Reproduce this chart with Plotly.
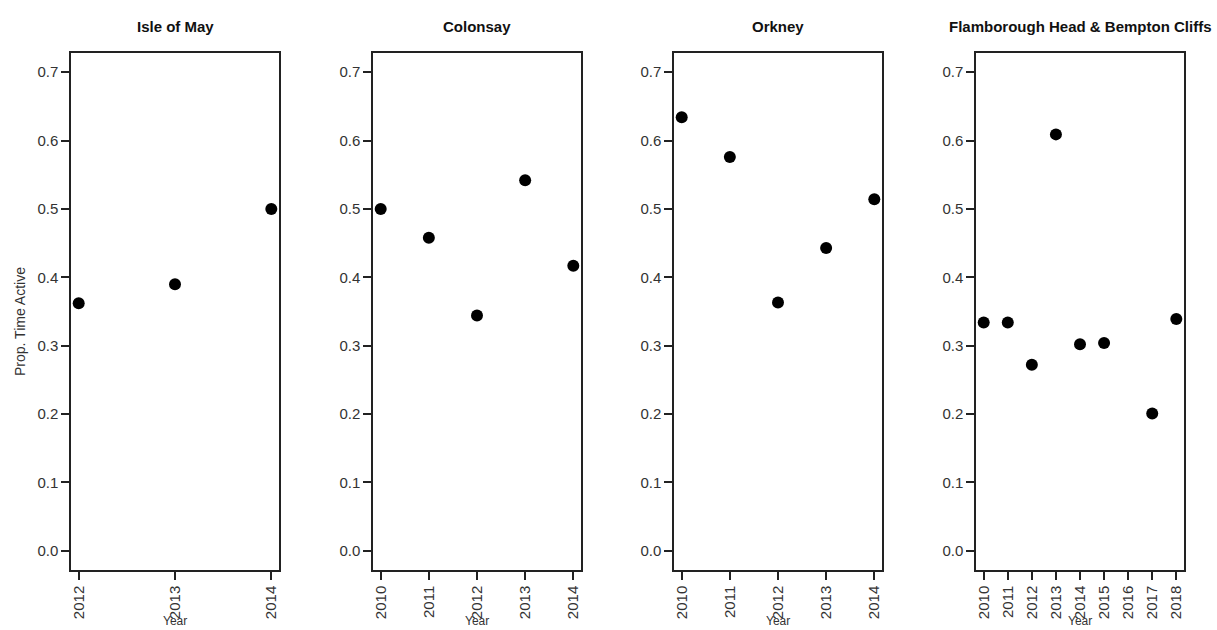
import plotly.graph_objects as go

W, H = 1217, 630

sites = ["Isle of May", "Colonsay", "Orkney", "Flamborough Head & Bempton Cliffs"]

isle_years = [2012, 2013, 2014]
isle_vals = [0.362, 0.390, 0.500]

colonsay_years = [2010, 2011, 2012, 2013, 2014]
colonsay_vals = [0.500, 0.458, 0.344, 0.542, 0.417]

orkney_years = [2010, 2011, 2012, 2013, 2014]
orkney_vals = [0.634, 0.576, 0.363, 0.443, 0.514]

flam_years = [2010, 2011, 2012, 2013, 2014, 2015, 2017, 2018]
flam_vals = [0.334, 0.334, 0.272, 0.609, 0.302, 0.304, 0.201, 0.339]

tick_years = [
    [2012, 2013, 2014],
    [2010, 2011, 2012, 2013, 2014],
    [2010, 2011, 2012, 2013, 2014],
    [2010, 2011, 2012, 2013, 2014, 2015, 2016, 2017, 2018],
]
y_ticks = [0.0, 0.1, 0.2, 0.3, 0.4, 0.5, 0.6, 0.7]

series = [
    (isle_years, isle_vals),
    (colonsay_years, colonsay_vals),
    (orkney_years, orkney_vals),
    (flam_years, flam_vals),
]

# panel pixel boxes (left, right)
panels_px = [(71, 279), (373, 581), (674, 882), (976, 1184)]
top_px, bot_px = 53, 570

fig = go.Figure()
font_family = "Liberation Sans, Arial, sans-serif"
txt_col = "#333333"

for i, ((xs, ys), (l, r), ticks) in enumerate(zip(series, panels_px, tick_years)):
    idx = "" if i == 0 else str(i + 1)
    xa = "x" + idx
    ya = "y" + idx
    fig.add_trace(go.Scatter(
        x=xs, y=ys, mode="markers", xaxis=xa, yaxis=ya,
        marker=dict(color="black", size=12, line=dict(width=0)),
        showlegend=False, hoverinfo="x+y",
    ))
    span = ticks[-1] - ticks[0]
    ext = span * 0.04
    fig.layout["xaxis" + idx] = dict(
        domain=[l / W, r / W], anchor=ya,
        range=[ticks[0] - ext, ticks[-1] + ext],
        tickmode="array", tickvals=ticks, ticktext=[str(t) for t in ticks],
        tickangle=-90, ticks="outside", ticklen=8, tickwidth=1.5, tickcolor="#222",
        showline=True, linecolor="#222", linewidth=1.5, mirror=True,
        showgrid=False, zeroline=False, automargin=False,
        tickfont=dict(family=font_family, size=15, color=txt_col),
        fixedrange=True,
    )
    fig.layout["yaxis" + idx] = dict(
        domain=[1 - bot_px / H, 1 - top_px / H], anchor=xa,
        range=[-0.028, 0.728],
        tickmode="array", tickvals=y_ticks, ticktext=["%.1f" % v for v in y_ticks],
        ticks="outside", ticklen=8, tickwidth=1.5, tickcolor="#222",
        showline=True, linecolor="#222", linewidth=1.5, mirror=True,
        showgrid=False, zeroline=False, automargin=False,
        tickfont=dict(family=font_family, size=15, color=txt_col),
        fixedrange=True,
    )
    cx = (l + r) / 2 / W
    fig.add_annotation(
        text="<b>" + sites[i].replace("&", "&amp;") + "</b>", x=cx, y=1 - 27 / H,
        xref="paper", yref="paper", showarrow=False,
        xanchor="center", yanchor="middle",
        font=dict(family=font_family, size=15, color="#111"),
    )
    fig.add_annotation(
        text="Year", x=cx, y=1 - 621 / H,
        xref="paper", yref="paper", showarrow=False,
        xanchor="center", yanchor="middle",
        font=dict(family=font_family, size=12, color=txt_col),
    )

fig.add_annotation(
    text="Prop. Time Active", x=20 / W, y=1 - 322 / H,
    xref="paper", yref="paper", showarrow=False, textangle=-90,
    xanchor="center", yanchor="middle",
    font=dict(family=font_family, size=14, color=txt_col),
)

fig.update_layout(
    width=W, height=H,
    margin=dict(l=0, r=0, t=0, b=0),
    paper_bgcolor="white", plot_bgcolor="white",
)

fig.write_html("out.html")
